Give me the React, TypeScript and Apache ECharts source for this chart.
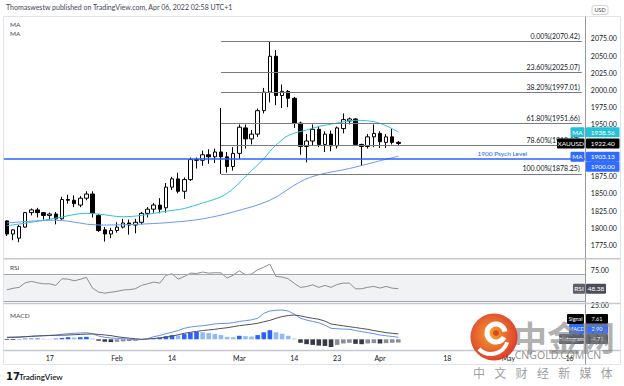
import React, { useEffect, useRef } from "react";
import * as echarts from "echarts";

// ---- categories (trading days, 2022) ----
const dates = [
  "01-06","01-07","01-10","01-11","01-12","01-13","01-14","01-17","01-18","01-19","01-20","01-21","01-24","01-25","01-26","01-27","01-28","01-31",
  "02-01","02-02","02-03","02-04","02-07","02-08","02-09","02-10","02-11","02-14","02-15","02-16","02-17","02-18","02-21","02-22","02-23","02-24","02-25","02-28",
  "03-01","03-02","03-03","03-04","03-07","03-08","03-09","03-10","03-11","03-14","03-15","03-16","03-17","03-18","03-21","03-22","03-23","03-24","03-25","03-28","03-29","03-30","03-31",
  "04-01","04-04","04-05","04-06","04-07","04-08","04-11","04-12","04-13","04-14","04-15","04-18","04-19","04-20","04-21","04-22","04-25","04-26","04-27","04-28","04-29",
  "05-02","05-03","05-04","05-05","05-06","05-09","05-10","05-11","05-12","05-13","05-16","05-17","05-18"
];
const tickLabels: Record<string, string> = {
  "01-17": "17", "02-01": "Feb", "02-14": "14", "03-01": "Mar", "03-14": "14",
  "03-23": "23", "04-01": "Apr", "04-18": "18", "05-02": "May", "05-16": "16"
};

// ---- XAUUSD daily OHLC ----
const opens = [1810,1791,1785,1801,1822,1826,1822,1818,1820,1813,1841,1840,1833,1843,1849,1818,1797,1791,1796,1801,1807,1804,1808,1821,1827,1833,1829,1859,1871,1853,1870,1899,1898,1906,1903,1910,1903,1889,1908,1945,1929,1936,1970,1997,2049,1992,1998,1988,1952,1918,1926,1943,1921,1936,1919,1944,1955,1958,1921,1918,1932,1937,1924,1932,1924];
const closes = [1791,1797,1802,1822,1826,1822,1818,1820,1813,1841,1840,1835,1843,1849,1821,1796,1791,1796,1801,1807,1804,1808,1821,1827,1833,1827,1859,1871,1853,1870,1899,1898,1906,1903,1910,1903,1889,1908,1946,1929,1936,1970,1997,2049,1992,1998,1988,1952,1918,1926,1943,1921,1936,1919,1945,1957,1958,1921,1918,1932,1937,1925,1932,1924,1922.4];
const lows = [1788,1782,1779,1800,1818,1815,1812,1812,1805,1812,1835,1830,1830,1840,1815,1794,1780,1785,1793,1799,1790,1792,1805,1815,1822,1821,1822,1855,1850,1842,1868,1886,1890,1893,1894,1878.25,1880,1883,1900,1915,1921,1932,1966,1982,1978,1974,1975,1945,1906,1895,1920,1917,1910,1911,1915,1937,1950,1919,1890,1915,1917,1916,1916,1921,1919];
const highs = [1811,1798,1804,1823,1828,1829,1823,1822,1823,1845,1848,1847,1846,1853,1853,1820,1801,1800,1808,1813,1812,1813,1823,1830,1836,1843,1865,1874,1880,1873,1902,1902,1912,1914,1915,1974,1910,1917,1950,1950,1942,1973,2003,2070.42,2058,2008,2000,1990,1954,1936,1950,1947,1940,1941,1947,1966,1960,1959,1922,1936,1950,1940,1936,1944,1926];

// ---- moving averages (read points: [bar index, value]) ----
const maFastPts: [number, number][] = [[0,1803],[4,1808],[8,1814],[13,1821],[15,1820],[19,1816],[22,1818],[26,1824],[29,1828],[32,1836],[35,1845],[37,1857],[40,1883],[42,1900],[43,1911],[44,1920],[46,1934],[49,1942],[51,1947],[54,1952],[57,1956],[60,1954],[62,1948],[64,1939]];
const maSlowPts: [number, number][] = [[0,1807],[8,1811],[15,1804],[21,1805],[27,1808],[32,1813],[37,1823],[43,1840],[48,1867],[51,1877],[56,1886],[60,1895],[64,1904]];

// ---- RSI ----
const rsi = [46.8,49,50.3,57,59,57,55.5,55.5,53.2,62.8,62.3,59.9,62,64.8,49.3,43.5,42,43.2,44.5,46.5,47,48.3,53.2,55.5,58,56.5,67.7,70,62.3,66,71,70.5,72.5,71,71.5,71.4,63.8,68,74.3,68.6,69.6,75.8,79.5,84,66.2,65.2,62.8,56,50.3,51.5,54,50.3,53.2,50.3,54.5,56.5,56.5,48.3,48.3,50.5,51.7,49.3,51.7,49.2,48.38];

// ---- MACD ----
const macdLine = [2.3,2.6,3.0,3.7,4.4,5.0,5.3,5.6,6.1,7.2,8.0,8.6,9.0,9.4,8.0,4.7,2.8,1.8,1.4,0.8,0.2,-1,-0.4,0.8,3.7,5.5,8.0,10,12.5,15.7,17.5,18.6,19.4,20.5,21.9,22.5,22.8,23.7,25.5,26.6,27.8,30,37.1,40.4,41.5,41.8,40.4,36,30,27.5,25.5,23.7,20,15.7,15.0,14.6,14.3,12.5,11,9.4,8.0,6.1,5.0,4.0,2.9];
const signalLine = [2.9,3.1,3.3,3.7,4.2,4.6,5.0,5.4,5.7,5.9,6.1,6.6,7.0,7.4,7.6,7.0,6.2,5.3,3.7,2.6,1.6,0.8,0,0.5,1.2,2.0,2.9,4.5,6.5,8.6,10.0,11.2,12.5,13.4,14.3,15.5,16.5,18.0,19.4,20.5,21.5,22.9,25.0,27.0,30.0,32.5,34.0,34.7,33.5,31.5,30.0,28.6,26.0,21.9,20.5,19.2,18.0,16.8,15.5,14.3,12.5,11.0,9.5,8.5,7.6];
const histogram = [-1,-1,0.5,1,1,1.2,0.8,0.5,1,2,3,2.5,3,3.5,1,-2,-3.5,-4,-3.5,-3,-2.5,-2,-0.5,0.5,1.5,2.5,4.5,6,5.5,7.5,9.5,10.5,10,9,7.5,6,3.5,3,5,4.5,4,6,10,13,10,8,5,1,-5,-7,-8,-9,-9.5,-11,-8,-6,-5,-6.5,-7,-6,-5.5,-6,-5.5,-5,-4.7];

// ---- Fibonacci retracement ----
const fibLevels = ["0.00%", "23.60%", "38.20%", "61.80%", "78.60%", "100.00%"];
const fibPrices = [2070.42, 2025.07, 1997.01, 1951.66, 1919.37, 1878.25];
const fibStartIdx = 35;
const fibEndIdx = 94;
const psychLevel = 1900;
const psychLabelIdx = 81;

const FONT = "Lato, 'Noto Sans', sans-serif";

export default function App() {
  const ref = useRef<HTMLDivElement>(null);

  useEffect(() => {
    if (!ref.current) return;
    const chart = echarts.init(ref.current, null, { renderer: "svg" });

    const gridX = { left: 3.84, width: 581.02 };
    const mkX = (gi: number, showLabels: boolean) => ({
      type: "category",
      gridIndex: gi,
      data: dates,
      boundaryGap: true,
      axisLine: { show: false },
      axisTick: { show: false },
      splitLine: { show: false },
      axisLabel: showLabels
        ? {
            show: true,
            interval: (_i: number, v: string) => tickLabels[v] !== undefined,
            formatter: (v: string) => tickLabels[v] || "",
            fontSize: 7,
            color: "#131722",
            fontFamily: FONT,
            margin: 4,
          }
        : { show: false },
    });

    const candleData = opens.map((o, i) => [o, closes[i], lows[i], highs[i]]);

    const histColors = histogram.map((h, i) => {
      const prev = i > 0 ? histogram[i - 1] : h;
      if (h >= 0) return h >= prev ? "#2962ff" : "#90b9f8";
      return h <= prev ? "#363a45" : "#8a8d96";
    });

    const option: any = {
      animation: false,
      backgroundColor: "#ffffff",
      grid: [
        { ...gridX, top: 21.1, height: 241.15 },
        { ...gridX, top: 260, height: 44.85 },
        { ...gridX, top: 305, height: 45 },
      ],
      xAxis: [mkX(0, false), mkX(1, false), mkX(2, true)],
      yAxis: [
        {
          type: "value", gridIndex: 0, position: "right", min: 1750, max: 2100, interval: 25,
          axisLine: { show: false }, axisTick: { show: false }, splitLine: { show: false },
          axisLabel: {
            margin: 6, fontSize: 7, color: "#131722", fontFamily: FONT,
            formatter: (v: number) => (v < 1770 || v > 2080 ? "" : v.toFixed(2)),
          },
        },
        {
          type: "value", gridIndex: 1, position: "right", min: 25, max: 90, interval: 5,
          axisLine: { show: false }, axisTick: { show: false }, splitLine: { show: false },
          axisLabel: {
            margin: 6, fontSize: 7, color: "#131722", fontFamily: FONT,
            formatter: (v: number) => (v === 75 || v === 25 ? v.toFixed(2) : ""),
          },
        },
        {
          type: "value", gridIndex: 2, position: "right", min: -15.3, max: 49,
          axisLine: { show: false }, axisTick: { show: false }, splitLine: { show: false },
          axisLabel: { show: false },
        },
      ],
      series: [
        {
          type: "candlestick",
          xAxisIndex: 0, yAxisIndex: 0,
          data: candleData,
          barWidth: 4,
          itemStyle: { color: "#ffffff", color0: "#000000", borderColor: "#000000", borderColor0: "#000000", borderWidth: 1 },
          markLine: {
            silent: true,
            symbol: ["none", "none"],
            animation: false,
            data: [
              ...fibPrices.map((p, k) => [
                {
                  coord: [dates[fibStartIdx], p],
                  lineStyle: { color: "#787b86", width: 1, type: "solid" },
                  label: {
                    show: true, position: "insideEndTop", distance: 2,
                    formatter: `${fibLevels[k]}(${p.toFixed(2)})`,
                    fontSize: 7, color: "#131722", fontFamily: FONT,
                  },
                },
                { coord: [dates[fibEndIdx], p] },
              ]),
              {
                yAxis: psychLevel,
                lineStyle: { color: "#2962ff", width: 1.5, type: "solid" },
                label: { show: false },
              },
            ],
          },
          markPoint: {
            silent: true,
            symbol: "circle",
            symbolSize: 0,
            data: [
              {
                coord: [dates[psychLabelIdx], psychLevel],
                label: {
                  show: true, position: "top", distance: 2,
                  formatter: "1900 Psych Level", fontSize: 6.5, color: "#2962ff", fontFamily: FONT,
                },
              },
            ],
          },
        },
        {
          type: "line", xAxisIndex: 0, yAxisIndex: 0,
          data: maFastPts.map(([i, v]) => [dates[i], v]),
          smooth: 0.35, showSymbol: false, lineStyle: { color: "#2ec4d8", width: 1 }, z: 3,
        },
        {
          type: "line", xAxisIndex: 0, yAxisIndex: 0,
          data: maSlowPts.map(([i, v]) => [dates[i], v]),
          smooth: 0.35, showSymbol: false, lineStyle: { color: "#6b97f5", width: 1 }, z: 3,
        },
        {
          type: "line", xAxisIndex: 1, yAxisIndex: 1,
          data: rsi, showSymbol: false, lineStyle: { color: "#8c8c8c", width: 1 },
          markArea: {
            silent: true,
            itemStyle: { color: "rgba(120,123,134,0.10)" },
            data: [[{ yAxis: 70 }, { yAxis: 30 }]],
          },
          markLine: {
            silent: true, symbol: ["none", "none"],
            lineStyle: { color: "#a3a6af", width: 1, type: "solid" },
            label: { show: false },
            data: [{ yAxis: 70 }, { yAxis: 30 }],
          },
        },
        {
          type: "bar", xAxisIndex: 2, yAxisIndex: 2,
          data: histogram.map((h, i) => ({ value: h, itemStyle: { color: histColors[i] } })),
          barWidth: 4.6,
        },
        {
          type: "line", xAxisIndex: 2, yAxisIndex: 2,
          data: macdLine, showSymbol: false, lineStyle: { color: "#5f8ff6", width: 1 },
        },
        {
          type: "line", xAxisIndex: 2, yAxisIndex: 2,
          data: signalLine, showSymbol: false, lineStyle: { color: "#505050", width: 1 },
        },
      ],
    };
    chart.setOption(option);

    const py = (v: number) => chart.convertToPixel({ yAxisIndex: 0 }, v) as number;
    const ry = (v: number) => chart.convertToPixel({ yAxisIndex: 1 }, v) as number;

    const txt = (x: number, y: number, text: string, size: number, fill: string, extra: any = {}) => ({
      type: "text", x, y, z: 120,
      style: { text, fill, font: `${extra.weight || "normal"} ${size}px ${extra.family || FONT}`, align: extra.align || "left", verticalAlign: "middle", opacity: extra.opacity ?? 1 },
    });
    const tag = (x: number, yc: number, w: number, text: string, bg: string, fg = "#ffffff", fs = 6.5) => ({
      type: "group", z: 110,
      children: [
        { type: "rect", z: 110, shape: { x, y: yc - 5, width: w, height: 10, r: 1 }, style: { fill: bg } },
        { type: "text", z: 111, x: x + w / 2, y: yc, style: { text, fill: fg, font: `${fs}px ${FONT}`, align: "center", verticalAlign: "middle" } },
      ],
    });

    const yFast = py(1938.56);
    const yPrice = py(1922.4);
    const ySlow = py(1903.13);
    const yRsi = ry(48.38);

    const chars = ["中", "文", "财", "经", "新", "媒", "体"];

    const graphics: any[] = [
      // frame
      { type: "rect", z: 1, shape: { x: 3.5, y: 16.5, width: 617, height: 348 }, style: { fill: "none", stroke: "#e0e3eb", lineWidth: 1 } },
      // price axis separator
      { type: "line", z: 90, shape: { x1: 585.5, y1: 16.5, x2: 585.5, y2: 364.5 }, style: { stroke: "#9598a1", lineWidth: 1 } },
      // pane separators
      { type: "line", z: 90, shape: { x1: 3.5, y1: 258.8, x2: 620.5, y2: 258.8 }, style: { stroke: "#c5c8cf", lineWidth: 1.6 } },
      { type: "line", z: 90, shape: { x1: 3.5, y1: 303.5, x2: 620.5, y2: 303.5 }, style: { stroke: "#c5c8cf", lineWidth: 1.6 } },
      { type: "line", z: 90, shape: { x1: 3.5, y1: 350.5, x2: 620.5, y2: 350.5 }, style: { stroke: "#c5c8cf", lineWidth: 1.6 } },
      // header
      txt(6, 7, "Thomaswestw published on TradingView.com, Apr 06, 2022 02:58 UTC+1", 7, "#434651"),
      // legends
      txt(10, 24, "MA", 6.5, "#434651"),
      txt(10, 33.5, "MA", 6.5, "#434651"),
      txt(10, 267, "RSI", 6.5, "#434651"),
      txt(10, 315, "MACD", 6.5, "#434651"),
      // USD badge
      { type: "rect", z: 100, shape: { x: 592, y: 5.5, width: 16, height: 9, r: 2 }, style: { fill: "#fff", stroke: "#c5c8cf", lineWidth: 0.8 } },
      txt(600, 10, "USD", 5.5, "#434651", { align: "center" }),
      // price tags
      tag(570.5, yFast, 14, "MA", "#26c1d6"),
      tag(586, yFast, 33.5, "1938.56", "#26c1d6"),
      tag(557, yPrice, 27.5, "XAUUSD", "#000000"),
      tag(586, yPrice, 33.5, "1922.40", "#000000"),
      tag(570.5, ySlow, 14, "MA", "#2f6bff"),
      tag(586, ySlow, 33.5, "1903.13", "#2f6bff"),
      tag(586, ySlow + 10, 33.5, "1900.00", "#2f6bff"),
      // RSI tags
      tag(573, yRsi, 12, "RSI", "#5d606b"),
      tag(586, yRsi, 20, "48.38", "#4a4d57"),
      // MACD tags (under watermark)
      tag(567, 319, 17, "Signal", "#000000", "#ffffff", 5.5),
      tag(586, 319, 22, "7.61", "#000000", "#ffffff", 5.5),
      tag(569, 329, 15, "MACD", "#2f6bff", "#ffffff", 5.5),
      tag(586, 329, 22, "2.90", "#2f6bff", "#ffffff", 5.5),
      tag(559, 339, 25, "Histogram", "#5d606b", "#ffffff", 5.5),
      tag(586, 339, 22, "-4.71", "#5d606b", "#ffffff", 5.5),
      // TradingView logo
      txt(6, 376.5, "17", 10, "#131722", { weight: "bold", family: "'DejaVu Sans', sans-serif" }),
      txt(19, 376.5, "TradingView", 8, "#131722", { weight: "600" }),
      // watermark: logo
      {
        type: "circle", z: 130, shape: { cx: 494, cy: 337, r: 23.5 },
        style: {
          fill: { type: "radial", x: 0.45, y: 0.45, r: 0.6, colorStops: [{ offset: 0, color: "#f59a1c" }, { offset: 1, color: "#d9271c" }] },
          opacity: 0.92,
        },
      },
      { type: "arc", z: 131, shape: { cx: 496, cy: 333, r: 9, startAngle: Math.PI * 0.15, endAngle: Math.PI * 1.95 }, style: { stroke: "#ffffff", lineWidth: 5, fill: "none" } },
      { type: "arc", z: 131, shape: { cx: 491, cy: 337, r: 17, startAngle: Math.PI * 0.1, endAngle: Math.PI * 0.75 }, style: { stroke: "#ffffff", lineWidth: 4, fill: "none" } },
      { type: "circle", z: 132, shape: { cx: 496, cy: 333, r: 3 }, style: { fill: "#e0461d" } },
      // watermark: texts
      txt(564, 336, "中金网", 34, "rgba(125,125,125,0.62)", { align: "center", weight: "bold", family: "'Noto Sans CJK SC', sans-serif" }),
      txt(558, 355, "CNGOLD.COM.CN", 10.5, "rgba(130,130,130,0.85)", { align: "center", family: "'Noto Sans', sans-serif" }),
      ...chars.map((c, k) => txt(479 + k * 21.3, 372, c, 12, "rgba(140,140,140,0.85)", { align: "center", family: "'Noto Sans CJK SC', sans-serif" })),
    ];

    chart.setOption({ graphic: graphics });

    return () => chart.dispose();
  }, []);

  return <div ref={ref} style={{ position: "fixed", left: 0, top: 0, width: 624, height: 386 }} />;
}
